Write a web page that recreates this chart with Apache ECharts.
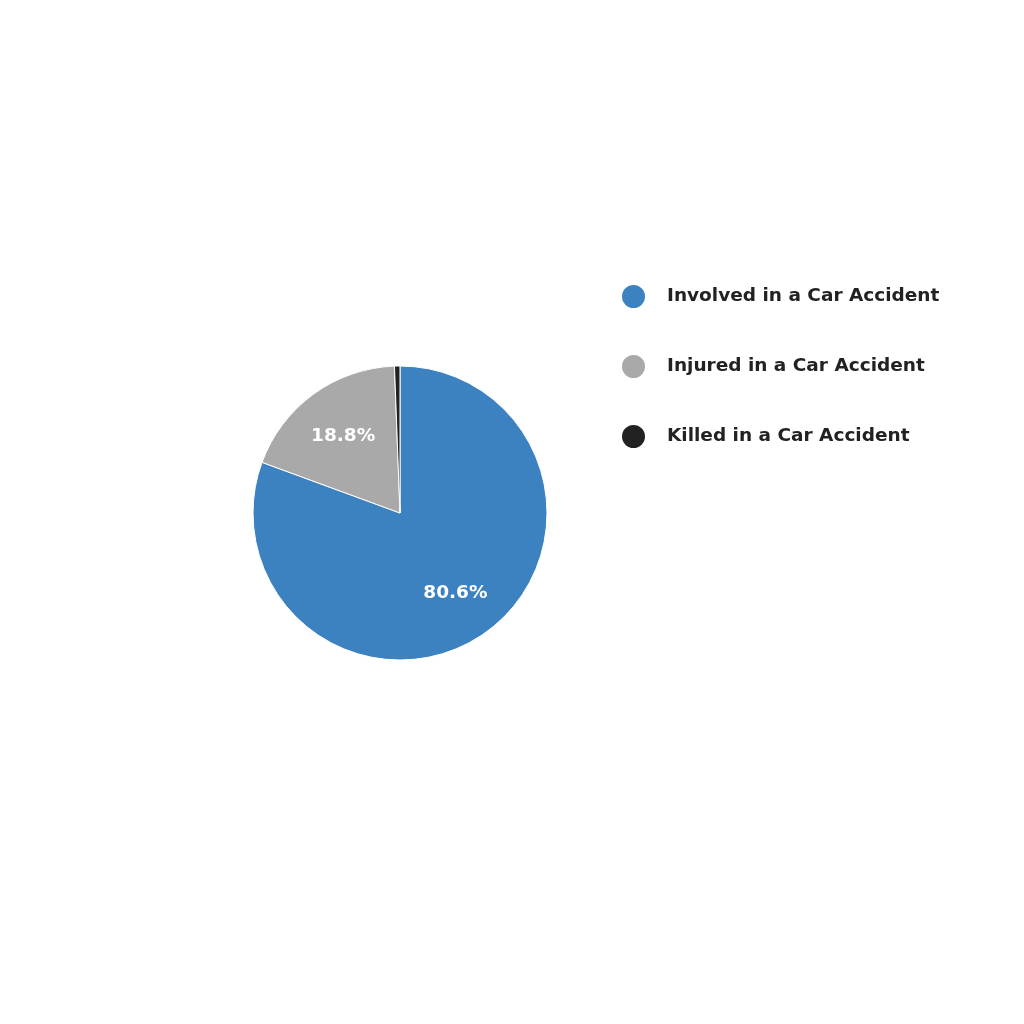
<!DOCTYPE html>
<html>
<head>
<meta charset="utf-8">
<script src="https://cdn.jsdelivr.net/npm/echarts@6/dist/echarts.min.js"></script>
<style>html,body{margin:0;padding:0;background:#fff;}#c{width:1024px;height:1024px;}</style>
</head>
<body>
<div id="c"></div>
<script>
var categories = ['Involved in a Car Accident', 'Injured in a Car Accident', 'Killed in a Car Accident'];
var values = [80.6, 18.8, 0.6];
var colors = ['#3d82c0', '#a9a9a9', '#222222'];
var showLabel = [true, true, false];

var chart = echarts.init(document.getElementById('c'));
var cx = 400, cy = 513, R = 147;
chart.setOption({
  backgroundColor: '#ffffff',
  animation: false,
  legend: {
    orient: 'vertical',
    left: 620,
    top: 283,
    padding: 0,
    icon: 'circle',
    itemWidth: 25,
    itemHeight: 25,
    itemGap: 43,
    data: categories,
    textStyle: {
      fontFamily: 'DejaVu Sans',
      fontWeight: 'bold',
      fontSize: 18.5,
      color: '#222222',
      padding: [0, 0, 0, 16],
      lineHeight: 25
    }
  },
  series: [{
    type: 'pie',
    center: [cx, cy],
    radius: [0, R],
    startAngle: 90,
    clockwise: true,
    legendHoverLink: false,
    itemStyle: { borderColor: '#ffffff', borderWidth: 1 },
    label: {
      position: 'inside',
      color: '#ffffff',
      fontFamily: 'DejaVu Sans',
      fontWeight: 'bold',
      fontSize: 18.5,
      formatter: function (p) { return p.value.toFixed(1) + '%'; }
    },
    labelLine: { show: false },
    labelLayout: function (p) {
      var r = p.labelRect;
      var lx = r.x + r.width / 2, ly = r.y + r.height / 2;
      var k = 93 / 73.5 - 1;
      return { dx: (lx - cx) * k, dy: (ly - cy) * k + 1 };
    },
    data: categories.map(function (c, i) {
      return { name: c, value: values[i], itemStyle: { color: colors[i] }, label: { show: showLabel[i] } };
    })
  }]
});
</script>
</body>
</html>
